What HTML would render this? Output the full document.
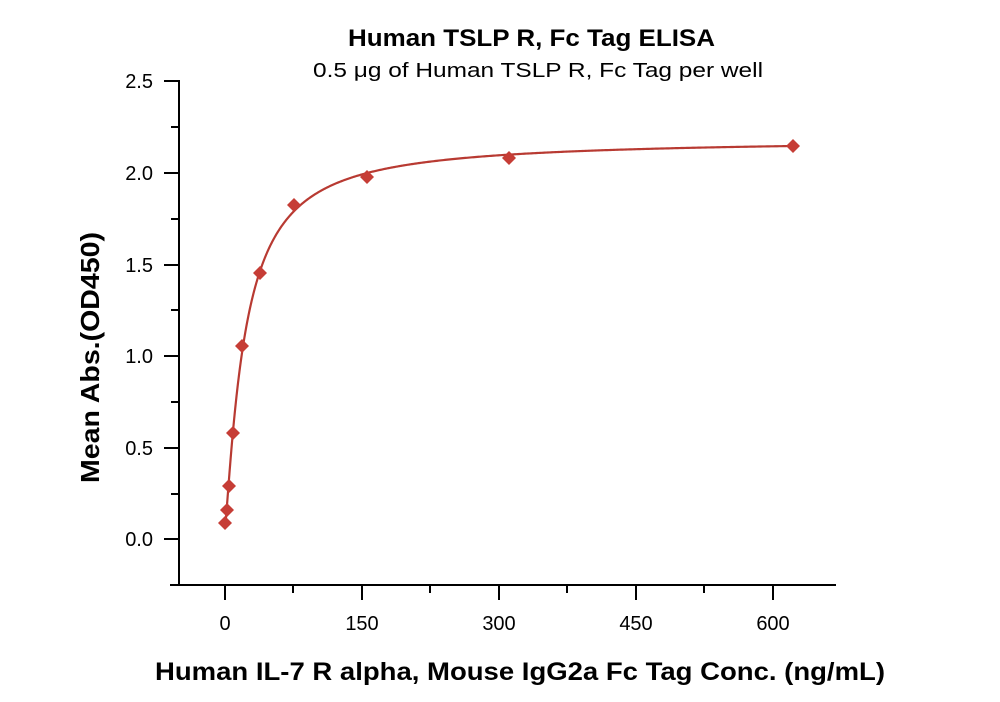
<!DOCTYPE html>
<html><head><meta charset="utf-8">
<style>
html,body{margin:0;padding:0;background:#fff;}
svg{display:block;font-family:"Liberation Sans",Arial,sans-serif;}
</style></head>
<body>
<svg id="s" width="1000" height="702" viewBox="0 0 1000 702">
<rect width="1000" height="702" fill="#fff"/>
<text x="348" y="46" font-size="24" font-weight="bold" textLength="367" lengthAdjust="spacingAndGlyphs">Human TSLP R, Fc Tag ELISA</text>
<text x="313" y="77" font-size="20" textLength="450" lengthAdjust="spacingAndGlyphs">0.5 μg of Human TSLP R, Fc Tag per well</text>
<g stroke="#000" stroke-width="2" fill="none">
<line x1="179" y1="80" x2="179" y2="586"/>
<line x1="170" y1="585" x2="836" y2="585"/>
<line x1="164" y1="81" x2="179" y2="81"/>
<line x1="164" y1="173" x2="179" y2="173"/>
<line x1="164" y1="265" x2="179" y2="265"/>
<line x1="164" y1="356" x2="179" y2="356"/>
<line x1="164" y1="448" x2="179" y2="448"/>
<line x1="164" y1="539" x2="179" y2="539"/>
<line x1="171" y1="127" x2="179" y2="127"/>
<line x1="171" y1="219" x2="179" y2="219"/>
<line x1="171" y1="310" x2="179" y2="310"/>
<line x1="171" y1="402" x2="179" y2="402"/>
<line x1="171" y1="494" x2="179" y2="494"/>
<line x1="225" y1="585" x2="225" y2="600"/>
<line x1="362" y1="585" x2="362" y2="600"/>
<line x1="499" y1="585" x2="499" y2="600"/>
<line x1="636" y1="585" x2="636" y2="600"/>
<line x1="773" y1="585" x2="773" y2="600"/>
<line x1="293" y1="585" x2="293" y2="593"/>
<line x1="430" y1="585" x2="430" y2="593"/>
<line x1="567" y1="585" x2="567" y2="593"/>
<line x1="704" y1="585" x2="704" y2="593"/>
</g>
<g font-size="20" text-anchor="end">
<text x="153" y="88">2.5</text>
<text x="153" y="180">2.0</text>
<text x="153" y="272">1.5</text>
<text x="153" y="363">1.0</text>
<text x="153" y="455">0.5</text>
<text x="153" y="546">0.0</text>
</g>
<g font-size="20" text-anchor="middle">
<text x="225" y="630">0</text>
<text x="362" y="630">150</text>
<text x="499" y="630">300</text>
<text x="636" y="630">450</text>
<text x="773" y="630">600</text>
</g>
<text x="155" y="680" font-size="25" font-weight="bold" textLength="730" lengthAdjust="spacingAndGlyphs">Human IL-7 R alpha, Mouse IgG2a Fc Tag Conc. (ng/mL)</text>
<text transform="translate(99,483) rotate(-90)" font-size="26" font-weight="bold" textLength="251" lengthAdjust="spacingAndGlyphs">Mean Abs.(OD450)</text>
<path id="curve" fill="none" stroke="#b83a32" stroke-width="2.2"/>
<g id="pts" fill="#c63d36"></g>
</svg>
<script>
(function(){
var X=function(v){return 225+v*0.9133;},Y=function(v){return 539-v*183.2;};
var f=function(x){var t=Math.pow(x/22,1.2);return 0.06+2.123*t/(1+t);};
var d="";
for(var i=0;i<=600;i++){var x=Math.pow(i/600,2.2)*625;d+=(i?"L":"M")+X(x).toFixed(2)+","+Y(f(x)).toFixed(2);}
document.getElementById("curve").setAttribute("d",d);
var pts=[[793,146],[509,158],[367,177],[294,205],[260,273],[242,346],[233,433],[229,486],[227,510],[225,523]];
var g=document.getElementById("pts"),h="";
pts.forEach(function(p){var x=p[0],y=p[1],r=7;h+='<polygon points="'+x+','+(y-r)+' '+(x+r)+','+y+' '+x+','+(y+r)+' '+(x-r)+','+y+'"/>';});
g.innerHTML=h;
})();
</script>
</body></html>
